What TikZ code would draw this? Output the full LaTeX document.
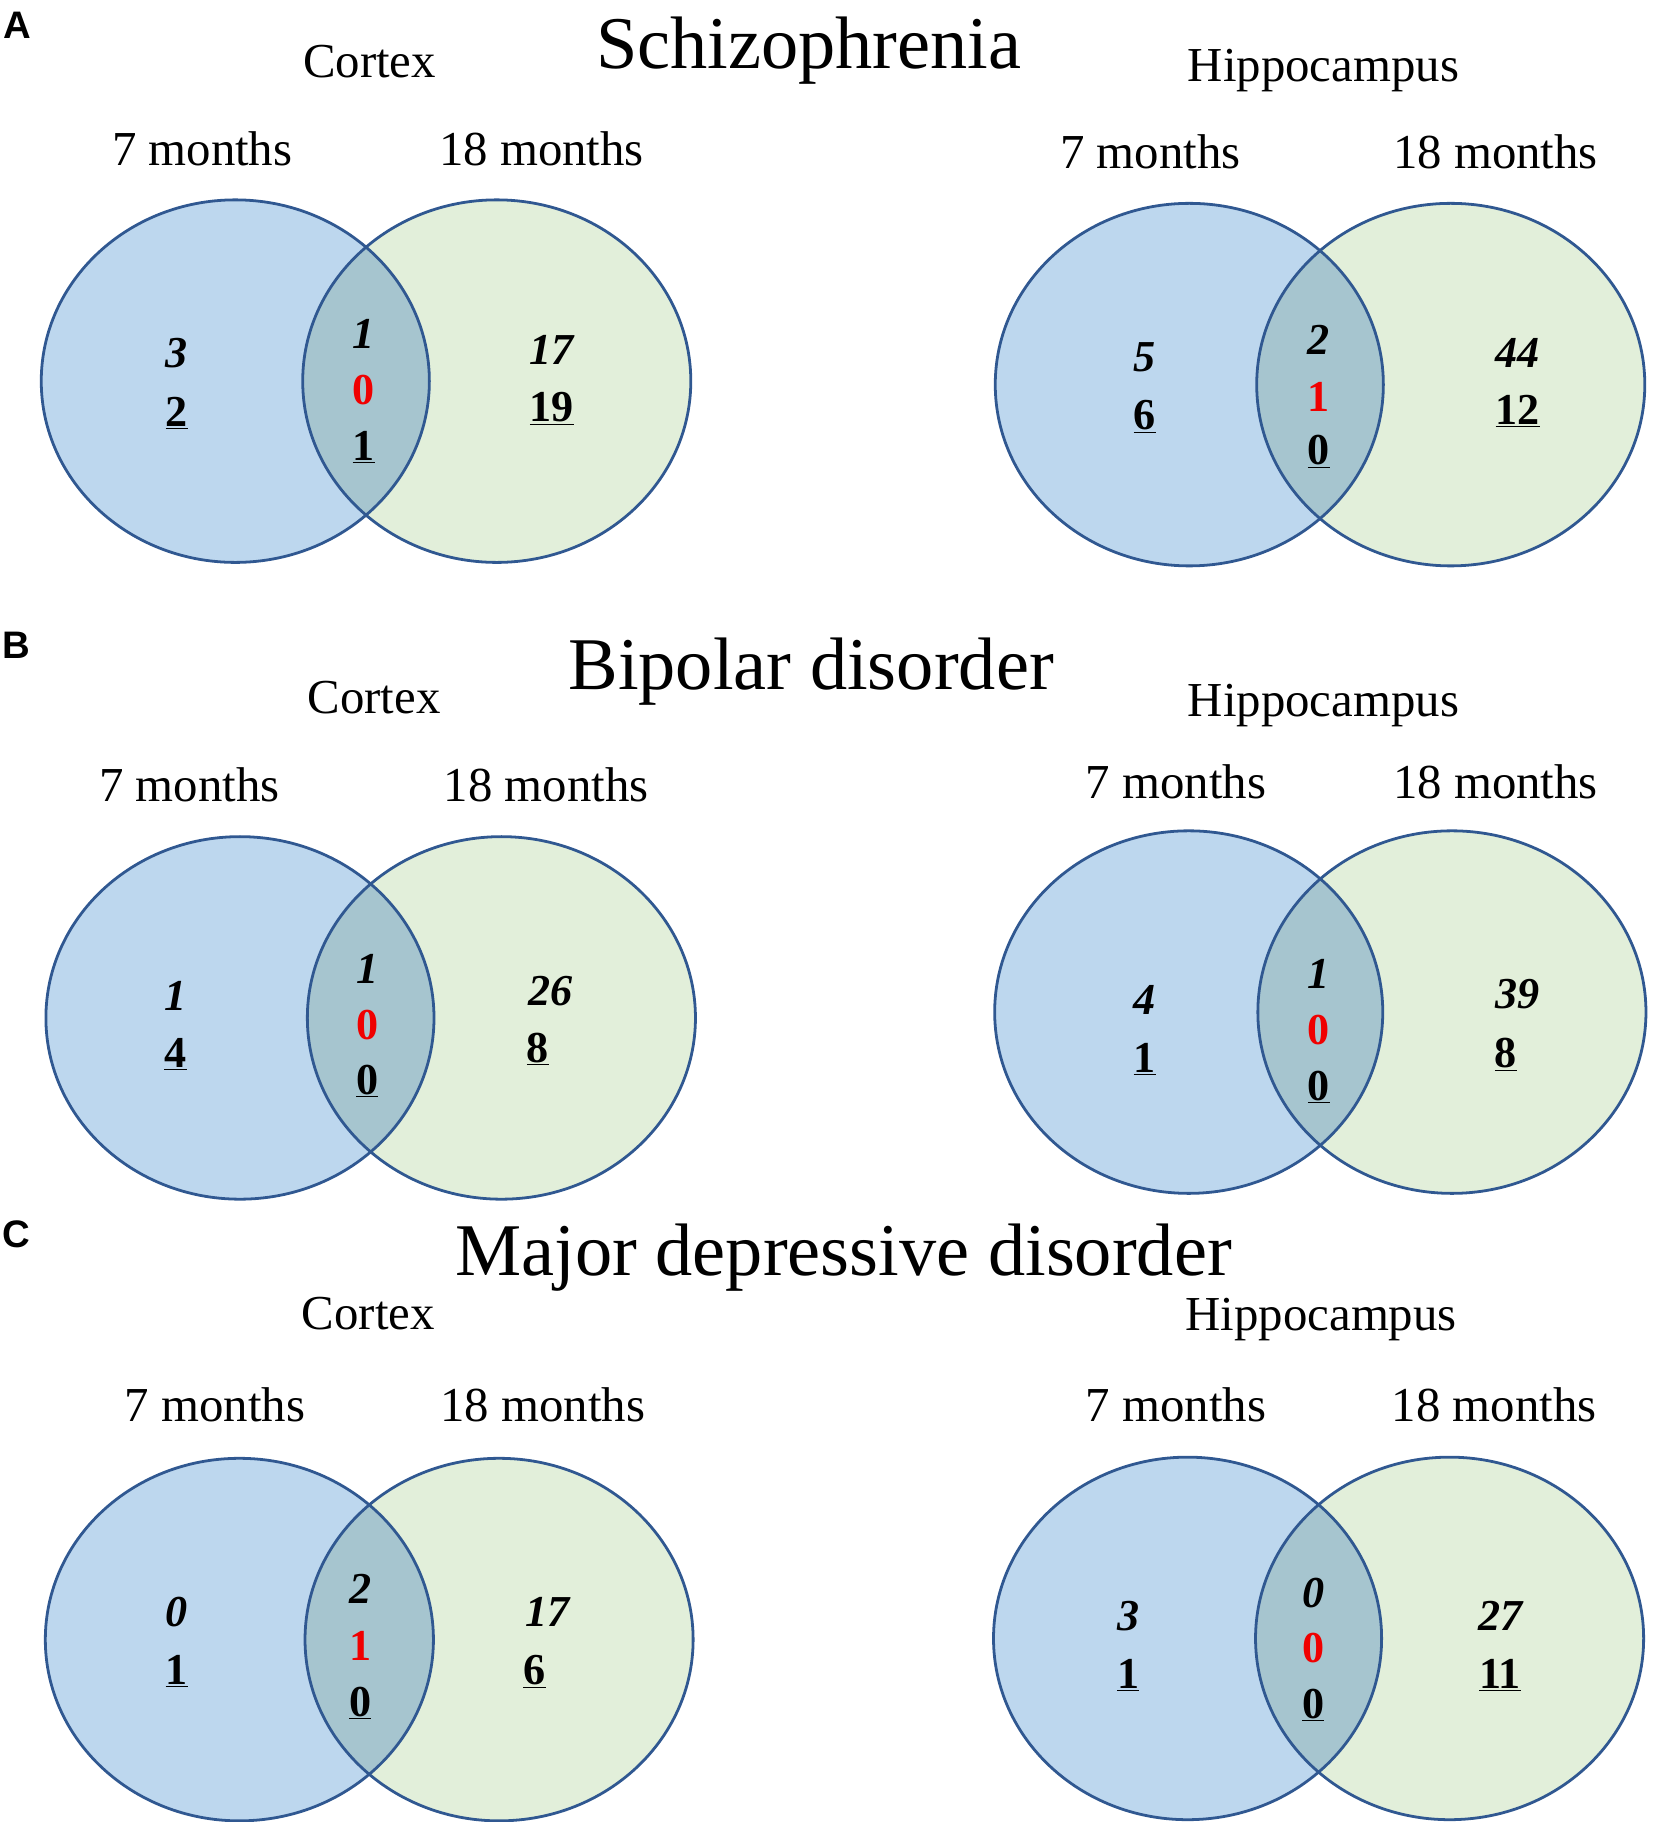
\documentclass[tikz,border=0pt]{standalone}
\usepackage{fontspec}
\setmainfont{Liberation Serif}
\newfontfamily\panelfont{Liberation Sans}
\definecolor{vblue}{RGB}{189,215,238}
\definecolor{vgreen}{RGB}{226,239,218}
\definecolor{vmid}{RGB}{166,197,207}
\definecolor{vline}{RGB}{48,88,145}
\definecolor{vred}{RGB}{240,0,0}
\tikzset{
  lab/.style={font=\fontsize{42}{42}\selectfont, anchor=base, inner sep=0pt},
  ttl/.style={font=\fontsize{64}{64}\selectfont, anchor=base, inner sep=0pt},
  num/.style={font=\fontsize{38}{38}\selectfont\bfseries, anchor=base, inner sep=0pt},
  panel/.style={font=\panelfont\bfseries\fontsize{33}{33}\selectfont, anchor=base west, inner sep=0pt},
  vring/.style={draw=vline, line width=2.4pt},
}
\newcommand\myvenn[3]{%
  \fill[vblue] (#1,#3) ellipse [x radius=167pt, y radius=156pt];
  \fill[vgreen] (#2,#3) ellipse [x radius=167pt, y radius=156pt];
  \begin{scope}
    \clip (#1,#3) ellipse [x radius=167pt, y radius=156pt];
    \fill[vmid] (#2,#3) ellipse [x radius=167pt, y radius=156pt];
  \end{scope}
  \draw[vring] (#1,#3) ellipse [x radius=167pt, y radius=156pt];
  \draw[vring] (#2,#3) ellipse [x radius=167pt, y radius=156pt];
}
\begin{document}
\begin{tikzpicture}[x=1pt,y=-1pt]
\useasboundingbox[fill=white] (0,0) rectangle (1428,1568);

% ---------- Panel A ----------
\node[panel] (pA) at (3,33) {A};
\node[ttl] (tA) at (696,59) {Schizophrenia};
\node[lab] (cxA) at (318,67) {Cortex};
\node[lab] (hpA) at (1139,70) {Hippocampus};
\node[lab] (c7A) at (174,142) {7 months};
\node[lab] (c18A) at (466,142) {18 months};
\node[lab] (h7A) at (990,145) {7 months};
\node[lab] (h18A) at (1287,145) {18 months};
\myvenn{202.5}{427.5}{328}
\myvenn{1023.5}{1248.5}{331}
\node[num] (a1) at (152,316) {\itshape 3};
\node[num] (a2) at (152,367) {\underline{2}};
\node[num] (a3) at (313,300) {\itshape 1};
\node[num,text=vred] (a4) at (313,348) {0};
\node[num] (a5) at (313,396) {\underline{1}};
\node[num] (a6) at (475,314) {\itshape 17};
\node[num] (a7) at (475,363) {\underline{19}};
\node[num] (a8) at (985,320) {\itshape 5};
\node[num] (a9) at (985,370) {\underline{6}};
\node[num] (a10) at (1135,305) {\itshape 2};
\node[num,text=vred] (a11) at (1135,354) {1};
\node[num] (a12) at (1135,400) {\underline{0}};
\node[num] (a13) at (1306,316) {\itshape 44};
\node[num] (a14) at (1306,365) {\underline{12}};

% ---------- Panel B ----------
\node[panel] (pB) at (2,567) {B};
\node[ttl] (tB) at (698,593) {Bipolar disorder};
\node[lab] (cxB) at (322,614) {Cortex};
\node[lab] (hpB) at (1139,617) {Hippocampus};
\node[lab] (c7B) at (163,690) {7 months};
\node[lab] (c18B) at (470,690) {18 months};
\node[lab] (h7B) at (1012,687) {7 months};
\node[lab] (h18B) at (1287,687) {18 months};
\myvenn{206.5}{431.5}{876}
\myvenn{1023}{1249.5}{871}
\node[num] (b1) at (151,870) {\itshape 1};
\node[num] (b2) at (151,919) {\underline{4}};
\node[num] (b3) at (316,846) {\itshape 1};
\node[num,text=vred] (b4) at (316,895) {0};
\node[num] (b5) at (316,942) {\underline{0}};
\node[num] (b6) at (474,865) {\itshape 26};
\node[num] (b7) at (463,914) {\underline{8}};
\node[num] (b8) at (985,873) {\itshape 4};
\node[num] (b9) at (985,923) {\underline{1}};
\node[num] (b10) at (1135,851) {\itshape 1};
\node[num,text=vred] (b11) at (1135,899) {0};
\node[num] (b12) at (1135,947) {\underline{0}};
\node[num] (b13) at (1306,868) {\itshape 39};
\node[num] (b14) at (1296,919) {\underline{8}};

% ---------- Panel C ----------
\node[panel] (pC) at (2,1074) {C};
\node[ttl] (tC) at (726,1098) {Major depressive disorder};
\node[lab] (cxC) at (317,1144) {Cortex};
\node[lab] (hpC) at (1137,1145) {Hippocampus};
\node[lab] (c7C) at (185,1223) {7 months};
\node[lab] (c18C) at (467,1223) {18 months};
\node[lab] (h7C) at (1012,1223) {7 months};
\node[lab] (h18C) at (1286,1223) {18 months};
\myvenn{206}{429.5}{1411}
\myvenn{1022}{1247.5}{1410}
\node[num] (c1) at (152,1400) {\itshape 0};
\node[num] (c2) at (152,1450) {\underline{1}};
\node[num] (c3) at (310,1380) {\itshape 2};
\node[num,text=vred] (c4) at (310,1429) {1};
\node[num] (c5) at (310,1477) {\underline{0}};
\node[num] (c6) at (471,1400) {\itshape 17};
\node[num] (c7) at (460,1450) {\underline{6}};
\node[num] (c8) at (971,1403) {\itshape 3};
\node[num] (c9) at (971,1453) {\underline{1}};
\node[num] (c10) at (1130,1383) {\itshape 0};
\node[num,text=vred] (c11) at (1130,1431) {0};
\node[num] (c12) at (1130,1479) {\underline{0}};
\node[num] (c13) at (1291,1403) {\itshape 27};
\node[num] (c14) at (1291,1453) {\underline{11}};
\end{tikzpicture}
\end{document}
